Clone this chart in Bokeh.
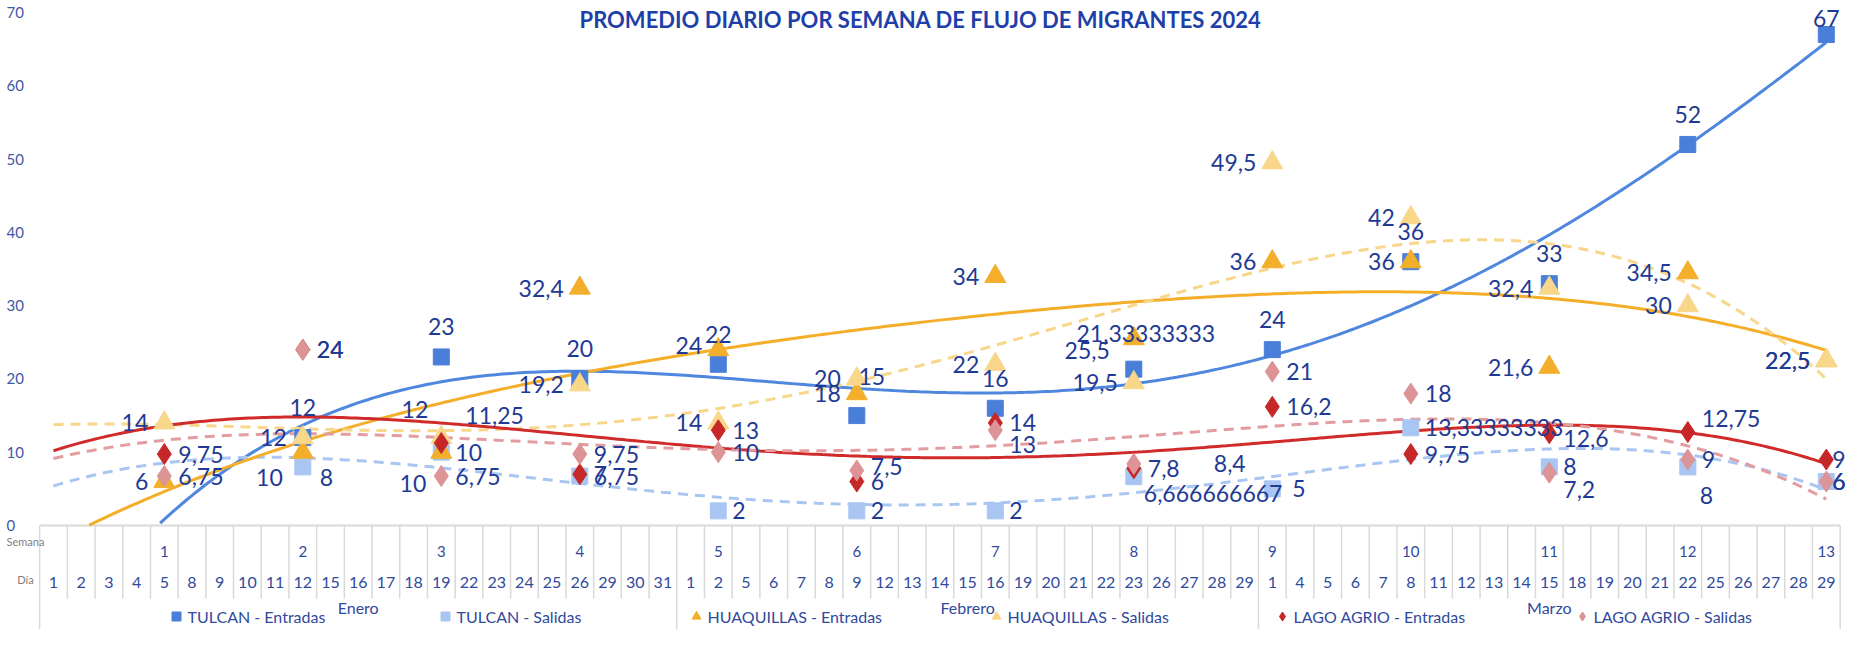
import numpy as np
from bokeh.plotting import figure
from bokeh.models import ColumnDataSource, LabelSet, Range1d
from bokeh.core.properties import value
from bokeh.embed import file_html
from bokeh.resources import INLINE

# ---------------- data ----------------
months = ["Enero", "Febrero", "Marzo"]
jan_days = [1, 2, 3, 4, 5, 8, 9, 10, 11, 12, 15, 16, 17, 18, 19, 22, 23, 24, 25, 26, 29, 30, 31]
feb_days = [1, 2, 5, 6, 7, 8, 9, 12, 13, 14, 15, 16, 19, 20, 21, 22, 23, 26, 27, 28, 29]
mar_days = [1, 4, 5, 6, 7, 8, 11, 12, 13, 14, 15, 18, 19, 20, 21, 22, 25, 26, 27, 28, 29]
weeks = [1, 2, 3, 4, 5, 6, 7, 8, 9, 10, 11, 12, 13]
week_dates = [("Enero", 5), ("Enero", 12), ("Enero", 19), ("Enero", 26),
              ("Febrero", 2), ("Febrero", 9), ("Febrero", 16), ("Febrero", 23),
              ("Marzo", 1), ("Marzo", 8), ("Marzo", 15), ("Marzo", 22), ("Marzo", 29)]
y_ticks = [0, 10, 20, 30, 40, 50, 60, 70]

tulcan_ent = [None, 12, 23, 20, 22, 15, 16, 21.33333333, 24, 36, 33, 52, 67]
tulcan_sal = [None, 8, 10, 6.75, 2, 2, 2, 6.666666667, 5, 13.33333333, 8, 8, 6]
huaq_ent = [6, 10, 10, 32.4, 24, 18, 34, 25.5, 36, 36, 21.6, 34.5, 22.5]
huaq_sal = [14, 12, 12, 19.2, 14, 20, 22, 19.5, 49.5, 42, 32.4, 30, 22.5]
lago_ent = [9.75, 24, 11.25, 7, 13, 6, 14, 7.8, 16.2, 9.75, 12.6, 12.75, 9]
lago_sal = [6.75, 24, 6.75, 9.75, 10, 7.5, 13, 8.4, 21, 18, 7.2, 9, 6]

series_names = ["TULCAN - Entradas", "TULCAN - Salidas", "HUAQUILLAS - Entradas",
                "HUAQUILLAS - Salidas", "LAGO AGRIO - Entradas", "LAGO AGRIO - Salidas"]
series_values = [tulcan_ent, tulcan_sal, huaq_ent, huaq_sal, lago_ent, lago_sal]
title_text = "PROMEDIO DIARIO POR SEMANA DE FLUJO DE MIGRANTES 2024"
row_labels = ["Semana", "Día"]

# ---------------- styles ----------------
colors = ["#4A7FD9", "#A9C6F2", "#F3AE2C", "#F8D68A", "#C62828", "#DC9496"]
line_colors = ["#5087DE", "#A9C6F2", "#F4AE2A", "#F8D68A", "#D02A2A", "#E39CA0"]
line_dash = ["solid", "10 7", "solid", "10 7", "solid", "10 7"]
markers = ["square", "square", "triangle", "triangle", "diamond", "diamond"]
msizes = [16, 16, 21, 21, 21, 21]
label_mode = ["above", "right", "left", "left", "right", "right"]
# per-point label placement overrides (screen px, +y up): {week_index: (dx, dy, align)}
label_over = [
    {5: (15, 39, "center"), 7: (12, 36, "center"), 12: (0, 16, "center")},
    {1: (17, -11, "left"), 7: (10, -17, "left"), 8: (20, 0, "left"), 11: (12, -29, "left"),
     12: (6, 0, "left")},
    {1: (-20, -25, "right"), 2: (-15, -31, "right"), 4: (-16, 4, "right"), 7: (-24, -12, "right")},
    {2: (-13, 28, "right")},
    {2: (24, 28, "left"), 10: (14, -5, "left"), 11: (14, 14, "left"), 12: (6, 0, "left")},
    {5: (14, 4, "left"), 6: (14, -14, "left"), 7: (80, 0, "left"), 10: (14, -17, "left"),
     12: (6, 0, "left")},
]
legend_x_px = [184, 453, 704, 1004, 1290, 1590]

FONT = "Lato"
LABEL_COLOR = "#1E3A94"
AXIS_COLOR = "#3F58A8"
TABLE_COLOR = "#D9D9D9"

# ---------------- category positions ----------------
categories = [("Enero", d) for d in jan_days] + [("Febrero", d) for d in feb_days] + \
             [("Marzo", d) for d in mar_days]
ncat = len(categories)
week_x = [categories.index(w) for w in week_dates]

PX_X = 27.7           # px per category
PX_Y = 7.328          # px per unit
X0_PX = 61.0          # page x of first category
def px_to_x(px):
    return (px - X0_PX) / PX_X
def py_to_y(py):
    return (533.0 - py) / PX_Y

p = figure(width=1848, height=629, output_backend="svg", toolbar_location=None,
           x_range=Range1d(px_to_x(8), px_to_x(1856)), y_range=Range1d(py_to_y(637), py_to_y(8)),
           min_border_left=0, min_border_right=0, min_border_top=0, min_border_bottom=0,
           x_axis_type=None, y_axis_type=None)
p.outline_line_color = None
p.grid.grid_line_color = None
p.background_fill_color = "white"
p.border_fill_color = "white"

# y tick labels
p.text(x=[px_to_x(14)] * len(y_ticks), y=y_ticks, text=[str(t) for t in y_ticks],
       text_font=value(FONT), text_font_size="15px", text_color=AXIS_COLOR,
       text_align="left", text_baseline="middle")

# ---------------- category table ----------------
p.segment(x0=[-0.5], y0=[0], x1=[ncat - 0.5], y1=[0], line_color=TABLE_COLOR, line_width=2)
month_bounds = [-0.5, len(jan_days) - 0.5, len(jan_days) + len(feb_days) - 0.5, ncat - 0.5]
short_x = [i - 0.5 for i in range(ncat + 1) if (i - 0.5) not in month_bounds]
p.segment(x0=short_x, y0=[0] * len(short_x), x1=short_x, y1=[py_to_y(606)] * len(short_x),
          line_color=TABLE_COLOR, line_width=1.5)
p.segment(x0=month_bounds, y0=[0] * 4, x1=month_bounds, y1=[py_to_y(637)] * 4,
          line_color=TABLE_COLOR, line_width=1.5)

p.text(x=list(range(ncat)), y=[py_to_y(590)] * ncat, text=[str(d) for _, d in categories],
       text_font=value(FONT), text_font_size="16px", text_color="#2F4A9D",
       text_align="center", text_baseline="middle")
p.text(x=week_x, y=[py_to_y(559)] * len(week_x), text=[str(w) for w in weeks],
       text_font=value(FONT), text_font_size="15px", text_color="#2F4A9D",
       text_align="center", text_baseline="middle")
month_cx = [(month_bounds[i] + month_bounds[i + 1]) / 2 for i in range(3)]
p.text(x=month_cx, y=[py_to_y(615)] * 3, text=months,
       text_font=value(FONT), text_font_size="16px", text_color="#2F4A9D",
       text_align="center", text_baseline="middle")
p.text(x=[px_to_x(33)] * 2, y=[py_to_y(549), py_to_y(587)], text=row_labels,
       text_font=value(FONT), text_font_size="11px", text_color="#7F7F7F",
       text_align="center", text_baseline="middle")

# ---------------- title ----------------
p.text(x=[px_to_x(928)], y=[py_to_y(27)], text=[title_text], text_font=value(FONT),
       text_font_style="bold", text_font_size="22px", text_color="#1F3FA8",
       text_align="center", text_baseline="alphabetic")

# ---------------- trend lines (4th-order polynomial fits of each series) ----------------
xx = np.linspace(0, ncat - 1, 400)
for vals, lc, ld in zip(series_values, line_colors, line_dash):
    xs = np.array([week_x[i] for i, v in enumerate(vals) if v is not None], float)
    ys = np.array([v for v in vals if v is not None], float)
    coef = np.polyfit(xs, ys, 4)
    yy = np.polyval(coef, xx)
    yy = np.where(yy < 0, np.nan, yy)
    p.line(xx, yy, line_color=lc, line_width=3, line_dash=ld)

# ---------------- markers ----------------
def fmt(v):
    if float(v).is_integer():
        return str(int(v))
    return repr(float(v)).replace(".", ",")

for k, vals in enumerate(series_values):
    xs = [week_x[i] for i, v in enumerate(vals) if v is not None]
    ys = [v for v in vals if v is not None]
    p.scatter(xs, ys, marker=markers[k], size=msizes[k], fill_color=colors[k],
              line_color=colors[k], line_width=1)

# ---------------- data labels ----------------
for k, vals in enumerate(series_values):
    xs, ys, txt, xo, yo, al = [], [], [], [], [], []
    for i, v in enumerate(vals):
        if v is None:
            continue
        mode = label_mode[k]
        if mode == "above":
            dx, dy, a = 0, 30, "center"
        elif mode == "right":
            dx, dy, a = 14, 0, "left"
        else:
            dx, dy, a = -16, 0, "right"
        if i in label_over[k]:
            dx, dy, a = label_over[k][i]
        xs.append(week_x[i]); ys.append(v); txt.append(fmt(v))
        xo.append(dx); yo.append(dy); al.append(a)
    src = ColumnDataSource(dict(x=xs, y=ys, text=txt, xo=xo, yo=yo, al=al))
    p.add_layout(LabelSet(x="x", y="y", text="text", x_offset="xo", y_offset="yo",
                          text_align="al", text_baseline="middle", source=src,
                          text_font=value(FONT), text_font_size="23px",
                          text_color=LABEL_COLOR))

# ---------------- legend ----------------
ly = py_to_y(624)
for k, name in enumerate(series_names):
    lx = px_to_x(legend_x_px[k])
    p.scatter([lx], [ly], marker=markers[k], size=9, fill_color=colors[k], line_color=colors[k])
    p.text(x=[lx + 0.4], y=[ly], text=[name], text_font=value(FONT), text_font_size="16px",
           text_color="#2F4A9D", text_align="left", text_baseline="middle")

open("out.html", "w").write(file_html(p, INLINE))
